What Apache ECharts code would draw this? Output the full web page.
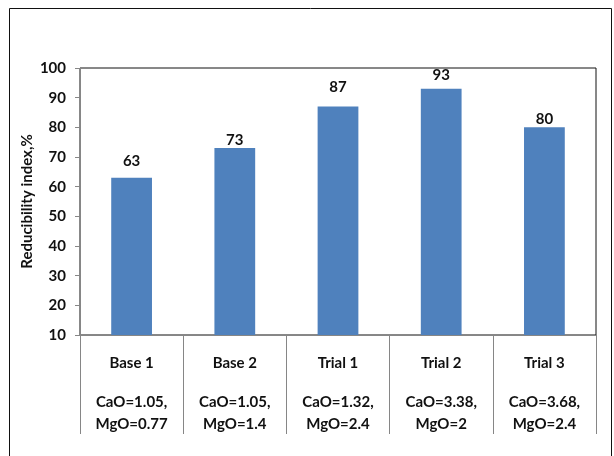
<!DOCTYPE html>
<html>
<head>
<meta charset="utf-8">
<script src="https://cdn.jsdelivr.net/npm/echarts@6/dist/echarts.min.js"></script>
<style>
  html, body { margin: 0; padding: 0; background: #fff; }
  #chart { width: 614px; height: 456px; }
</style>
</head>
<body>
<div id="chart"></div>
<script>
// Sinter trials and their basicity (CaO / MgO content)
const trials = ['Base 1', 'Base 2', 'Trial 1', 'Trial 2', 'Trial 3'];
const compositions = [
  'CaO=1.05,\nMgO=0.77',
  'CaO=1.05,\nMgO=1.4',
  'CaO=1.32,\nMgO=2.4',
  'CaO=3.38,\nMgO=2',
  'CaO=3.68,\nMgO=2.4'
];
// Reducibility index, %
const reducibility = [63, 73, 87, 93, 80];
// Value axis range
const yMin = 10, yMax = 100, yStep = 10;

// Extra gap (px) between each bar top and its value label
const labelLift = [9, 0, 12, 6, 1];

const FONT = 'Lato, "Open Sans", sans-serif';
const AXIS_GRAY = '#868686';
const TEXT = '#111';

const chart = echarts.init(document.getElementById('chart'), null, { renderer: 'canvas' });

chart.setOption({
  animation: false,
  backgroundColor: '#fff',
  textStyle: { fontFamily: FONT },
  graphic: [{
    type: 'rect',
    silent: true,
    shape: { x: 9.5, y: 8.5, width: 602, height: 470 },
    style: { fill: 'none', stroke: '#111', lineWidth: 1 },
    z: -10
  }],
  grid: {
    left: 80, top: 68, right: 18, bottom: 121,
    show: true, borderColor: '#111', borderWidth: 1, backgroundColor: 'transparent'
  },
  xAxis: [{
    type: 'category',
    data: trials,
    position: 'bottom',
    axisLine: { lineStyle: { color: AXIS_GRAY, width: 1 } },
    axisTick: { alignWithLabel: true, length: 3, lineStyle: { color: AXIS_GRAY } },
    axisLabel: { margin: 21, fontFamily: FONT, fontSize: 15, fontWeight: 'bold', color: TEXT },
    splitLine: { show: false }
  }, {
    type: 'category',
    data: compositions,
    position: 'bottom',
    axisLine: { show: false },
    axisTick: { show: true, interval: 0, length: 99, lineStyle: { color: AXIS_GRAY } },
    axisLabel: { margin: 56, interval: 0, fontFamily: FONT, fontSize: 15, fontWeight: 'bold', color: TEXT, lineHeight: 22 },
    splitLine: { show: false }
  }],
  yAxis: {
    type: 'value',
    min: yMin, max: yMax, interval: yStep,
    name: 'Reducibility index,%',
    nameLocation: 'middle',
    nameGap: 45,
    nameMoveOverlap: false,
    nameTextStyle: { fontFamily: FONT, fontSize: 15, fontWeight: 'bold', color: TEXT },
    axisLine: { show: true, lineStyle: { color: AXIS_GRAY, width: 1 } },
    axisTick: { show: true, length: 5, lineStyle: { color: AXIS_GRAY } },
    axisLabel: { margin: 14, fontFamily: FONT, fontSize: 15, fontWeight: 'bold', color: TEXT },
    splitLine: { show: false }
  },
  series: [{
    type: 'bar',
    xAxisIndex: 0,
    barWidth: '39.5%',
    itemStyle: { color: '#4F81BD' },
    label: {
      show: true, position: 'top',
      fontFamily: FONT, fontSize: 15, fontWeight: 'bold', color: TEXT
    },
    data: reducibility.map((v, i) => ({ value: v, label: { distance: labelLift[i] } }))
  }]
});
</script>
</body>
</html>
